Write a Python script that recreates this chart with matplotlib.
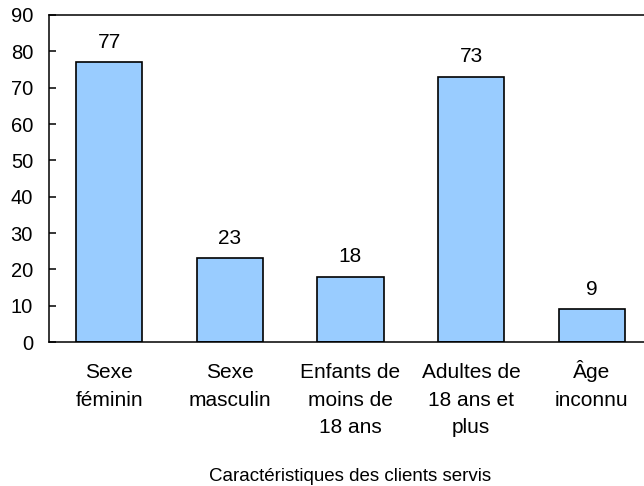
import matplotlib.pyplot as plt
import matplotlib

matplotlib.rcParams['font.family'] = ['Liberation Sans', 'DejaVu Sans']

categories = ['Sexe\nféminin', 'Sexe\nmasculin', 'Enfants de\nmoins de\n18 ans',
              'Adultes de\n18 ans et\nplus', 'Âge\ninconnu']
values = [77, 23, 18, 73, 9]

fig = plt.figure(figsize=(6.44, 4.86), dpi=100)
ax = fig.add_axes([49/644, 1 - 342/486, 603/644, 327/486])

x = range(len(values))
bars = ax.bar(x, values, width=0.55, color='#99ccff', edgecolor='black', linewidth=1.2)

for bar, v in zip(bars, values):
    ax.annotate(f'{v}', (bar.get_x() + bar.get_width()/2, v), xytext=(0, 10.5),
                textcoords='offset points', ha='center', va='baseline', fontsize=15)

# category labels, one line at a time so every first line sits on the same baseline
for i, label in enumerate(categories):
    for k, line in enumerate(label.split('\n')):
        ax.annotate(line, (i, 0), xycoords=('data', 'axes fraction'),
                    xytext=(0, -(36 + 27.5 * k) * 0.72), textcoords='offset points',
                    ha='center', va='baseline', fontsize=15)

ax.set_xlim(-0.5, 4.5)
ax.set_ylim(0, 90)
ax.set_yticks(range(0, 91, 10))
ax.set_xticks([])
ax.tick_params(axis='y', direction='in', length=5, width=1.1, labelsize=14.5, pad=11.5)
ax.spines['right'].set_visible(False)
for s in ['left', 'top', 'bottom']:
    ax.spines[s].set_linewidth(1.1)

ax.annotate('Caractéristiques des clients servis', (0.5, 0), xycoords='axes fraction',
            xytext=(0, -(481 - 342) * 0.72), textcoords='offset points',
            ha='center', va='baseline', fontsize=13.5)

plt.savefig('out.png', dpi=100, facecolor='white')
plt.close()
